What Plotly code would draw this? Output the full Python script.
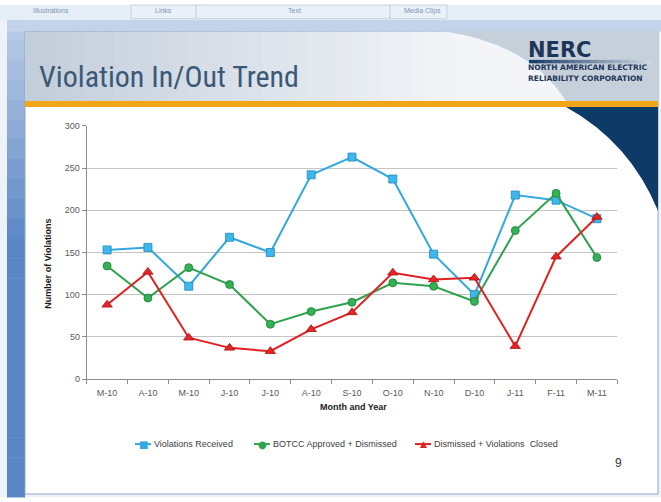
import plotly.graph_objects as go
import numpy as np

# ---------------- data ----------------
months = ["M-10", "A-10", "M-10", "J-10", "J-10", "A-10", "S-10",
          "O-10", "N-10", "D-10", "J-11", "F-11", "M-11"]
violations_received = [153, 156, 110, 168, 150, 242, 263, 237, 148, 100, 218, 212, 190]
botcc_approved_dismissed = [134, 96, 132, 112, 65, 80, 91, 114, 110, 92, 176, 220, 144]
dismissed_closed = [88, 127, 49, 37, 33, 59, 79, 126, 118, 120, 39, 145, 192]
y_ticks = [0, 50, 100, 150, 200, 250, 300]
series_names = ["Violations Received", "BOTCC Approved + Dismissed",
                "Dismissed + Violations  Closed"]

W, H = 661, 502


def X(px):
    return px / W


def Y(py):
    return 1 - py / H


def hexmix(c1, c2, t):
    a = [int(c1[i:i + 2], 16) for i in (1, 3, 5)]
    b = [int(c2[i:i + 2], 16) for i in (1, 3, 5)]
    m = [round(a[k] + (b[k] - a[k]) * t) for k in range(3)]
    return "#%02x%02x%02x" % tuple(m)


shapes = []


def rect(x0, y0, x1, y1, color, line=None):
    shapes.append(dict(type="rect", xref="paper", yref="paper",
                       x0=X(x0), x1=X(x1), y0=Y(y1), y1=Y(y0),
                       fillcolor=color, line=line or dict(width=0), layer="below"))


# ---- window background / frame ----
rect(0, 0, W, H, "#eef3f9")
n = 24
for i in range(n):
    y0 = 15 + (H - 15) * i / n
    y1 = 15 + (H - 15) * (i + 1) / n + 0.5
    rect(7, y0, 25, y1, hexmix("#b7cbe6", "#5a86c6", min(1, i / (n * 0.45))))
rect(7, 15, W, 27, "#c3d4ea")
rect(0, 0, W, 15, "#e6eef8")
for (a, b) in [(131, 196), (196, 390), (390, 447)]:
    rect(a, 0, b, 14, "#e9f0f8", line=dict(color="#c3d2e4", width=1))

# slide white area
rect(25, 27, 658, 499, "#ffffff", line=dict(color="#8fa6c4", width=1))

# title band gradient
n = 30
for i in range(n):
    x0 = 25 + (470 - 25) * i / n
    x1 = 25 + (470 - 25) * (i + 1) / n + 0.6
    rect(x0, 27, x1, 98, hexmix("#c3cedb", "#f3f5f8", i / (n - 1)))
rect(470, 27, 658, 98, "#f3f5f8")
shapes.append(dict(type="path", xref="paper", yref="paper", layer="below",
                   path=(f"M {X(445):.5f},{Y(27):.5f} "
                         f"Q {X(530):.5f},{Y(40):.5f} {X(566):.5f},{Y(98):.5f} "
                         f"L {X(658):.5f},{Y(98):.5f} L {X(658):.5f},{Y(27):.5f} Z"),
                   fillcolor="#c6d0db", line=dict(width=0)))
rect(25, 98, 658, 104, "#f2a516")
shapes.append(dict(type="path", xref="paper", yref="paper", layer="below",
                   path=(f"M {X(566):.5f},{Y(104):.5f} "
                         f"Q {X(630):.5f},{Y(140):.5f} {X(658):.5f},{Y(210):.5f} "
                         f"L {X(658):.5f},{Y(104):.5f} Z"),
                   fillcolor="#0e3a67", line=dict(width=0)))
n = 16
for i in range(n):
    x0 = 529 + (652 - 529) * i / n
    x1 = 529 + (652 - 529) * (i + 1) / n + 0.5
    rect(x0, 56, x1, 59.5, hexmix("#1c3d66", "#c8d4e2", i / (n - 1)))

annotations = []


def text(x, y, s, size, color, family="Liberation Sans, Arial", xanchor="left",
         yanchor="middle", angle=0):
    annotations.append(dict(x=X(x), y=Y(y), xref="paper", yref="paper", text=s,
                            showarrow=False, xanchor=xanchor, yanchor=yanchor,
                            textangle=angle, borderpad=0,
                            font=dict(size=size, color=color, family=family)))


text(32, 6, "Illustrations", 7, "#7f96b4")
text(154, 6, "Links", 7, "#7f96b4")
text(287, 6, "Text", 7, "#7f96b4")
text(403, 6, "Media Clips", 7, "#7f96b4")
text(38, 73, "Violation In/Out Trend", 30, "#3b5877",
     family="Liberation Sans Narrow, Roboto Condensed, Arial Narrow, Lato")
text(527, 45.5, "<b>NERC</b>", 21, "#1d3557", family="DejaVu Sans")
text(527, 69, "<b>NORTH AMERICAN ELECTRIC</b>", 7.5, "#1d3557",
     family="DejaVu Sans", yanchor="bottom")
text(527, 69, "<b>RELIABILITY CORPORATION</b>", 7.5, "#1d3557",
     family="DejaVu Sans", yanchor="top")
text(48, 264, "<b>Number of Violations</b>", 9, "#1a1a1a", xanchor="center", angle=-90)
text(353, 410, "<b>Month and Year</b>", 9, "#1a1a1a", xanchor="center")
text(618, 467, "9", 12, "#333333", xanchor="center")

# ---------------- legend (drawn manually to match the slide) ----------------
line_colors = ["#33a8de", "#2fa24f", "#e11f1f"]
glyphs = ["■", "●", "▲"]
glyph_sizes = [10, 10, 9]
legend_left = [135, 254, 415]
for name, col, g, gs, lx in zip(series_names, line_colors, glyphs, glyph_sizes,
                                legend_left):
    shapes.append(dict(type="line", xref="paper", yref="paper",
                       x0=X(lx), x1=X(lx + 16), y0=Y(448), y1=Y(448),
                       line=dict(color=col, width=2)))
    text(lx + 8, 448, g, gs, col, family="DejaVu Sans", xanchor="center")
    text(lx + 18, 448, name, 9, "#404040")

# ---------------- traces ----------------
xi = np.arange(len(months))
fig = go.Figure()
fig.add_trace(go.Scatter(
    x=xi, y=violations_received, name=series_names[0], mode="lines+markers",
    line=dict(color=line_colors[0], width=2),
    marker=dict(symbol="square", size=8, color="#3cb8ee",
                line=dict(color="#1f86b8", width=0.8))))
fig.add_trace(go.Scatter(
    x=xi, y=botcc_approved_dismissed, name=series_names[1], mode="lines+markers",
    line=dict(color=line_colors[1], width=2),
    marker=dict(symbol="circle", size=8, color="#34b055",
                line=dict(color="#1d7d39", width=0.8))))
fig.add_trace(go.Scatter(
    x=xi, y=dismissed_closed, name=series_names[2], mode="lines+markers",
    line=dict(color=line_colors[2], width=2),
    marker=dict(symbol="triangle-up", size=9, color="#e82424",
                line=dict(color="#a51212", width=0.8))))

boundaries = [i - 0.5 for i in range(len(months) + 1)]

fig.update_layout(
    width=W, height=H, autosize=False,
    margin=dict(l=0, r=0, t=0, b=0, pad=0),
    paper_bgcolor="#ffffff", plot_bgcolor="rgba(0,0,0,0)",
    shapes=shapes, annotations=annotations, showlegend=False,
    font=dict(family="Liberation Sans, Arial", size=9, color="#595959"),
    xaxis=dict(domain=[X(86.7), X(617.3)], range=[-0.5, len(months) - 0.5],
               tickvals=list(xi), ticktext=months, ticks="outside", ticklen=5,
               tickcolor="rgba(0,0,0,0)", showgrid=False, zeroline=False,
               showline=True, linecolor="#8c8c8c", linewidth=1,
               tickfont=dict(size=9, color="#595959"),
               minor=dict(tickvals=boundaries, ticks="outside", ticklen=4,
                          tickcolor="#8c8c8c", showgrid=False)),
    yaxis=dict(domain=[Y(381.7), Y(123.3)], range=[0, 300], tickvals=y_ticks,
               ticks="outside", ticklen=4, tickcolor="#8c8c8c",
               showgrid=True, gridcolor="#c4c4c4", gridwidth=1, zeroline=False,
               showline=True, linecolor="#8c8c8c", linewidth=1,
               tickfont=dict(size=9, color="#595959")),
)

fig.write_html("out.html", config={"displayModeBar": False},
               post_script="document.body.style.margin='0';"
                           "document.body.style.overflow='hidden';")
